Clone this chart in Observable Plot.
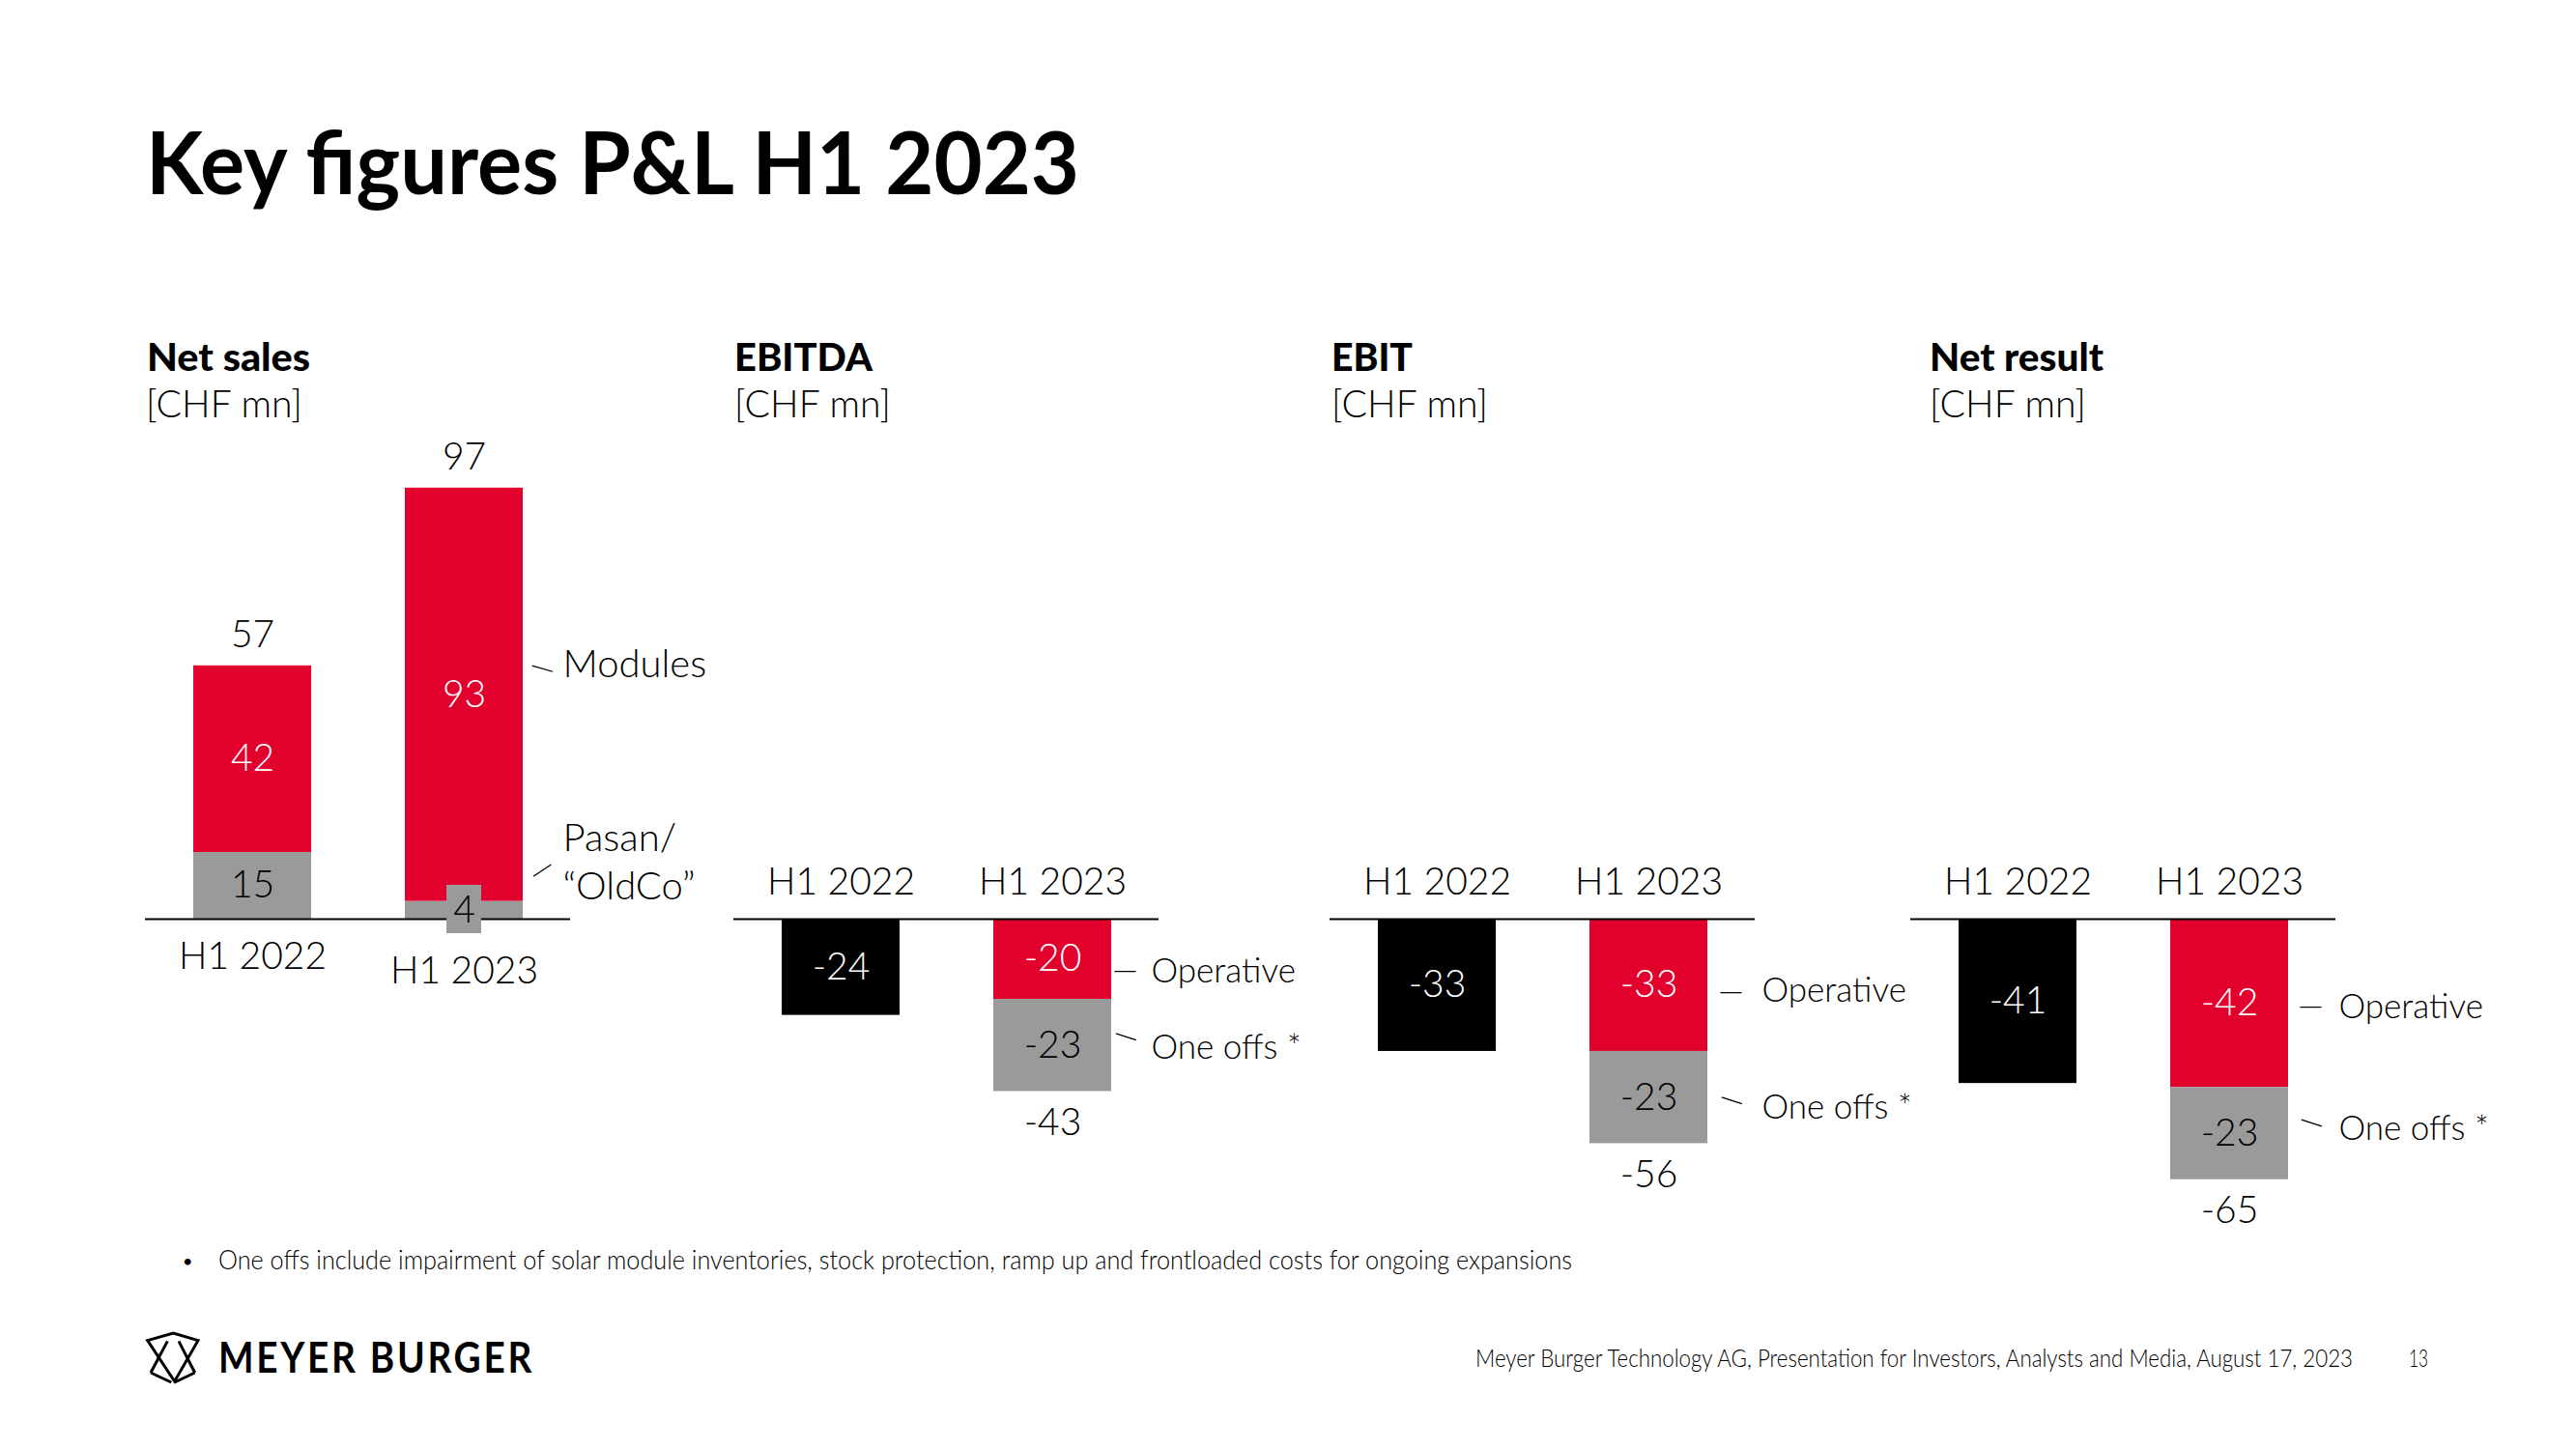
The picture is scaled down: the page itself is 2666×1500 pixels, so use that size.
<!DOCTYPE html>
<html>
<head>
<meta charset="utf-8">
<script src="https://cdn.jsdelivr.net/npm/d3@7"></script>
<script src="https://cdn.jsdelivr.net/npm/@observablehq/plot@0.6"></script>
<style>
  html, body { margin:0; padding:0; background:#fff; }
  #page { position:relative; width:2666px; height:1500px; overflow:hidden; font-family: Lato, "Noto Sans", sans-serif; color:#000; }
  .t { position:absolute; white-space:nowrap; line-height:1; transform-origin:0 0; }
  .panel { position:absolute; top:440px; }
</style>
</head>
<body>
<div id="page"></div>
<script>
// ---------------- data ----------------
const years = ["H1 2022", "H1 2023"];
const panelTitles = ["Net sales", "EBITDA", "EBIT", "Net result"];
const unitLabel = "[CHF mn]";

// Net sales: split Pasan/"OldCo" (bottom) and Modules (top)
const netSalesPasan   = [15, 4];
const netSalesModules = [42, 93];
const netSalesTotal   = [57, 97];

// Negative metrics: H1 2022 reported only, H1 2023 split [operative, one offs]
const ebitdaH1_2022 = [-24];
const ebitdaH1_2023 = [-20, -23];
const ebitdaTotal   = [-24, -43];

const ebitH1_2022 = [-33];
const ebitH1_2023 = [-33, -23];
const ebitTotal   = [-33, -56];

const netResultH1_2022 = [-41];
const netResultH1_2023 = [-42, -23];
const netResultTotal   = [-41, -65];

const segmentNames  = ["Reported", "Operative", "One offs", "Modules", "Pasan/“OldCo”"];
const segmentColors = ["#000000", "#E2002D", "#9A9A9A", "#E2002D", "#9A9A9A"];

const footnote = "One offs include impairment of solar module inventories, stock protection, ramp up and frontloaded costs for ongoing expansions";
const footer = "Meyer Burger Technology AG, Presentation for Investors, Analysts and Media, August 17, 2023";
const pageNo = "13";

// ---------------- helpers ----------------
function stackRows(rows) {
  const cum = new Map();
  return rows.map(r => {
    const c = cum.get(r.year) || 0;
    const y1 = c, y2 = c + r.value;
    cum.set(r.year, y2);
    return {...r, y1, y2, mid: (y1 + y2) / 2};
  });
}
function negRows(h22, h23) {
  return stackRows([
    {year: years[0], segment: "Reported",  value: h22[0]},
    {year: years[1], segment: "Operative", value: h23[0]},
    {year: years[1], segment: "One offs",  value: h23[1]}
  ]);
}
const netSalesRows = stackRows(years.flatMap((year, i) => [
  {year, segment: "Pasan/“OldCo”", value: netSalesPasan[i]},
  {year, segment: "Modules", value: netSalesModules[i]}
]));
const totalsRows = t => years.map((year, i) => ({year, total: t[i]}));
const isLight = d => d.segment === "One offs" || d.segment === "Pasan/“OldCo”";
const fmt = v => String(v);

const page = document.getElementById("page");
function addText(str, left, baseline, size, weight, width, extra) {
  const el = document.createElement("div");
  el.className = "t";
  el.textContent = str;
  el.style.left = left + "px";
  el.style.top = (baseline - 0.887 * size) + "px";
  el.style.fontSize = size + "px";
  el.style.fontWeight = weight;
  if (extra) Object.assign(el.style, extra);
  page.appendChild(el);
  if (width) {
    const w = el.getBoundingClientRect().width;
    if (w > 0) el.style.transform = `scaleX(${width / w})`;
  }
  return el;
}

// ---------------- layout ----------------
const ZERO = 511;          // y of the zero line inside each panel svg (page y 951)
const PW = 609, ML = 20, MR = 149;
const panels = [
  {title: panelTitles[0], titleLeft: 152, titleW: 169, axisStart: 150, sign: 1, k: 4.6,
   rows: netSalesRows, totals: totalsRows(netSalesTotal), totalMode: "above",
   catDy: [51, 66], noteSize: 40,
   box: {year: "H1 2023", segment: "Pasan/“OldCo”"},
   notes: [
     {segment: "Modules", label: "Modules", tdx: 102, tdy: -34, ldx: 81, ldy: -28, rot: 16},
     {segment: "Pasan/“OldCo”", label: "Pasan/\n“OldCo”", tdx: 102, tdy: -52, ldx: 80, ldy: -42, rot: -34}
   ]},
  {title: panelTitles[1], titleLeft: 760, titleW: 143, axisStart: 759, sign: -1, k: 4.15,
   rows: negRows(ebitdaH1_2022, ebitdaH1_2023), totals: totalsRows(ebitdaTotal), totalMode: "below",
   catDy: [-26, -26], noteSize: 35,
   notes: [
     {segment: "Operative", label: "Operative", tdx: 102, tdy: 10, ldx: 75, ldy: 11, rot: 0},
     {segment: "One offs", label: "One offs *", tdx: 102, tdy: 0, ldx: 76, ldy: -10, rot: 18}
   ]},
  {title: panelTitles[2], titleLeft: 1378, titleW: 84, axisStart: 1376, sign: -1, k: 4.15,
   rows: negRows(ebitH1_2022, ebitH1_2023), totals: totalsRows(ebitTotal), totalMode: "below",
   catDy: [-26, -26], noteSize: 35,
   notes: [
     {segment: "Operative", label: "Operative", tdx: 117, tdy: 3, ldx: 85, ldy: 6, rot: 0},
     {segment: "One offs", label: "One offs *", tdx: 117, tdy: 8, ldx: 86, ldy: 2, rot: 18}
   ]},
  {title: panelTitles[3], titleLeft: 1997, titleW: 180, axisStart: 1977, sign: -1, k: 4.15,
   rows: negRows(netResultH1_2022, netResultH1_2023), totals: totalsRows(netResultTotal), totalMode: "below",
   catDy: [-26, -26], noteSize: 35,
   notes: [
     {segment: "Operative", label: "Operative", tdx: 113, tdy: 1, ldx: 84, ldy: 2, rot: 0},
     {segment: "One offs", label: "One offs *", tdx: 113, tdy: -8, ldx: 85, ldy: -12, rot: 18}
   ]}
];

function buildPanel(p) {
  const rows = p.rows;
  const yDomain = p.sign > 0 ? [0, 100] : [0, -70];
  const yRange = p.sign > 0 ? [ZERO, ZERO - 100 * p.k] : [ZERO, ZERO + 70 * p.k];
  const marks = [
    Plot.barY(rows, {x: "year", y1: "y1", y2: "y2", fill: "segment"}),
    Plot.ruleY([0], {stroke: "#000", strokeWidth: 2})
  ];
  if (p.box) {
    marks.push(Plot.barY(rows.filter(d => d.year === p.box.year && d.segment === p.box.segment),
      {x: "year", y1: "y1", y2: "y2", fill: "segment", insetLeft: 43, insetRight: 43, insetTop: -16.6, insetBottom: -15}));
  }
  // segment value labels
  marks.push(Plot.text(rows.filter(d => !isLight(d)), {x: "year", y: "mid", text: d => fmt(d.value),
    fill: "#fff", fontSize: 39, fontWeight: 300}));
  marks.push(Plot.text(rows.filter(d => isLight(d)), {x: "year", y: "mid", text: d => fmt(d.value),
    fill: "#000", fontSize: 39, fontWeight: 300}));
  // totals
  if (p.totalMode === "above") {
    marks.push(Plot.text(p.totals, {x: "year", y: "total", text: d => fmt(d.total),
      lineAnchor: "bottom", dy: -19, fontSize: 39, fontWeight: 300, fill: "#000"}));
  } else {
    marks.push(Plot.text(p.totals.filter(d => d.year === years[1]), {x: "year", y: "total", text: d => fmt(d.total),
      lineAnchor: "top", dy: 17, fontSize: 39, fontWeight: 300, fill: "#000"}));
  }
  // category labels
  years.forEach((yr, i) => {
    marks.push(Plot.text([yr], {x: d => d, y: () => 0, text: d => d, lineAnchor: "bottom", dy: p.catDy[i],
      fontSize: 39, fontWeight: 300, fill: "#000"}));
  });
  // annotations with leaders
  p.notes.forEach(n => {
    const r = rows.find(d => d.year === years[1] && d.segment === n.segment);
    marks.push(Plot.text([r], {x: "year", y: "mid", text: () => n.label, textAnchor: "start",
      dx: n.tdx, dy: n.tdy, fontSize: p.noteSize, fontWeight: 300, fill: "#000", lineHeight: 1.25}));
    marks.push(Plot.text([r], {x: "year", y: "mid", text: () => "—", textAnchor: "middle",
      dx: n.ldx, dy: n.ldy, rotate: n.rot, fontSize: 34, fontWeight: 300, fill: "#000"}));
  });

  const svg = Plot.plot({
    width: PW, height: 860,
    marginLeft: ML, marginRight: MR, marginTop: 0, marginBottom: 0,
    x: {domain: years, paddingInner: 0.443, paddingOuter: 0.2216, axis: null},
    y: {domain: yDomain, range: yRange, axis: null},
    color: {domain: segmentNames, range: segmentColors},
    style: {fontFamily: "Lato, 'Noto Sans', sans-serif", background: "transparent", overflow: "visible"},
    marks
  });
  const wrap = document.createElement("div");
  wrap.className = "panel";
  wrap.style.left = (p.axisStart - ML) + "px";
  wrap.appendChild(svg);
  page.appendChild(wrap);

  addText(p.title, p.titleLeft, 385, 39, 900, p.titleW);
  addText(unitLabel, p.titleLeft - (p.axisStart === 150 ? 1 : 0), 433, 39, 300, 162);
}

// ---------------- page ----------------
addText("Key figures P&L H1 2023", 151, 201, 90, 700, 966);
panels.forEach(buildPanel);

addText("•", 189, 1312, 18, 400);
addText(footnote, 226, 1314, 28, 300, 1401);

addText("MEYER BURGER", 226, 1421, 43, 700, 327, {letterSpacing: "3px"});
addText(footer, 1527, 1415, 26, 300, 908);
addText(pageNo, 2493, 1415, 26, 300, 20);

// logo mark
const ns = "http://www.w3.org/2000/svg";
const logo = document.createElementNS(ns, "svg");
logo.setAttribute("width", 80); logo.setAttribute("height", 80);
logo.setAttribute("viewBox", "0 0 240 240");
logo.style.position = "absolute"; logo.style.left = "140px"; logo.style.top = "1365px";
logo.innerHTML = `<g fill="none" stroke="#000" stroke-width="9" stroke-linejoin="miter">
  <path d="M38,68 L118,45 L195,68 L122,195 Z"/>
  <path d="M48,168 L100,70 M185,168 L135,70 M48,168 L112,198 M185,168 L122,198"/>
</g>`;
page.appendChild(logo);
</script>
</body>
</html>
